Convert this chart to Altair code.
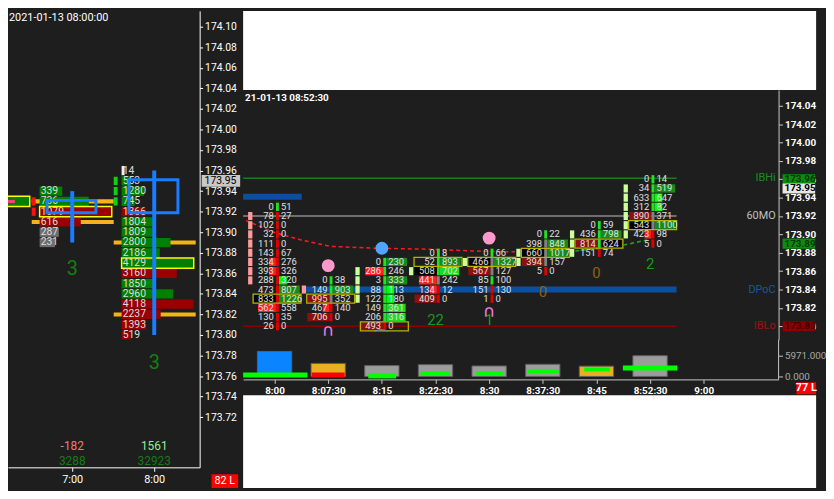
import altair as alt
import pandas as pd

FONT = "Roboto"
DARK = "#1e1e1e"
BLUE = "#1a7cff"
TIME_EXPR = ("floor(datum.value/60) + ':' + (floor(datum.value%60) < 10 ? '0' : '') + "
             "floor(datum.value%60) + (datum.value%1 > 0 ? ':30' : '')")

# ======================= LEFT PANEL : hourly footprint =======================
L_TITLE = "2021-01-13 08:00:00"
L_X_DOMAIN = [373.0, 513.25]          # minutes since midnight
L_Y_DOMAIN = [173.6712, 174.1154]     # price
L_YTICKS = [173.72, 173.74, 173.76, 173.78, 173.80, 173.82, 173.84, 173.86, 173.88, 173.90,
            173.92, 173.94, 173.96, 173.98, 174.00, 174.02, 174.04, 174.06, 174.08, 174.10]
L_XTICKS = [420, 480]
L_BAR_TIME = [420, 480]
L_TOP = [173.94, 173.96]
L_VOL = [[339, 736, 1079, 616, 287, 231],
         [14, 553, 1280, 745, 1366, 1804, 1809, 2800, 2186, 4129, 3160, 1850, 2960, 4118, 2237, 1393, 519]]
L_KIND = ["ggrrnn", "wgggrgggggrggrrrr"]
L_POC = [2, 9]
L_BODY_ROWS = [[173.93, 173.92], [173.95, 173.94, 173.93]]
L_BODY_COLOR = ["#ff1010", "#10d010"]
L_VA_ROWS = [[173.93, 173.91], [173.89, 173.82]]
L_WICK_LO = [173.89, 173.80]
L_WICK_HI = [173.94, 173.96]
L_OPEN = [173.93, 173.92]
L_CLOSE = [173.92, 173.95]
L_COUNT = ["3", "3"]
L_COUNT_PRICE = [173.864, 173.773]
L_DELTA = ["-182", "1561"]
L_DELTA_COLOR = ["#f07878", "#8ef08e"]
L_TOTAL = ["3288", "32923"]
L_LAST = "173.95"
L_LAST_PRICE = 173.95
L_PREV_TIME = 360
L_PREV_POC = 173.93
L_PREV_LINE = [367.2, 378.0]
L_ORDERS = "82 L"

# ======================= RIGHT PANEL : 7.5-minute footprint =======================
R_TITLE = "21-01-13 08:52:30"
R_X_DOMAIN = [475.604, 550.467]
R_Y_DOMAIN = [173.7852, 174.0572]
R_V_DOMAIN = [-5402, 10520]
R_YTICKS = [173.80, 173.82, 173.84, 173.86, 173.88, 173.90, 173.92, 173.94, 173.96, 173.98,
            174.00, 174.02, 174.04]
R_XTICKS = [480, 487.5, 495, 502.5, 510, 517.5, 525, 532.5, 540]
R_VTICKS = [0, 5971]
R_BAR_TIME = [480, 487.5, 495, 502.5, 510, 517.5, 525, 532.5]
R_TOP = [173.93, 173.85, 173.87, 173.88, 173.88, 173.90, 173.91, 173.96]
R_BID = [[0, 78, 102, 32, 111, 143, 334, 393, 288, 473, 833, 562, 130, 26],
         [0, 149, 995, 467, 706],
         [0, 286, 3, 88, 122, 149, 206, 493],
         [0, 52, 508, 441, 134, 409],
         [0, 466, 567, 85, 151, 1],
         [0, 398, 660, 394, 5],
         [0, 436, 814, 151],
         [0, 34, 633, 312, 890, 543, 423, 5]]
R_ASK = [[51, 27, 0, 0, 0, 67, 276, 326, 320, 807, 1226, 558, 35, 0],
         [38, 903, 352, 140, 0],
         [230, 246, 333, 113, 180, 361, 316, 0],
         [8, 893, 702, 242, 12, 0],
         [66, 1327, 127, 100, 130, 0],
         [22, 848, 1017, 157, 0],
         [59, 798, 624, 74],
         [14, 519, 647, 82, 371, 1100, 98, 0]]
R_BID_STYLE = ["......RR..kB..", "..rRr", ".B.....r", "..kBRr", ".kr...", "..kr.", "..r.", "....rkR."]
R_ASK_STYLE = ["........Ggg...", ".g...", "g.gGGLL.", ".gL...", ".g....", ".gg..", ".gk.", ".gGG.g.."]
R_DIV_STYLE = ["grrrrrrrrrrrrr", "ggwrr", "gggggggr", "gggwrr", "gwwgrr", "gwwwr", "gggr", "ggggwwrr"]
R_POC = [10, 2, 7, 1, 1, 2, 2, 5]

R_SIDE_TIME = [472.5, 480, 487.5, 495, 502.5, 510, 517.5, 525]
R_SIDE_LO = [173.85, 173.84, 173.83, 173.86, 173.87, 173.87, 173.88, 173.90]
R_SIDE_HI = [173.92, 173.84, 173.86, 173.86, 173.87, 173.88, 173.90, 173.95]
R_SIDE_COLOR = ["#ff9a9a", "#ff9a9a", "#ccff99", "#ccff99", "#ccff99", "#ccff99", "#ccff99", "#ccff99"]

R_LEVEL_NAME = ["IBHi", "60MO", "DPoC", "IBLo"]
R_LEVEL_PRICE = [173.961, 173.92, 173.84, 173.80]
R_LEVEL_START = [475.604, 475.604, 484.4, 475.604]
R_LEVEL_END = [536.2, 536.2, 536.2, 536.2]
R_LEVEL_COLOR = ["#1f7a1f", "#8a8a8a", "#0a4fa0", "#8b0000"]
R_LEVEL_WIDTH = [1.5, 1.5, 6, 1.5]
R_LEVEL_TEXT_COLOR = ["#1f8a1f", "#c0c0c0", "#1a55a8", "#a01010"]
R_OLD_POC_PRICE = 173.941
R_OLD_POC_X = [475.604, 483.8]

R_TAG_TEXT = ["173.96", "173.95", "173.89", "173.80"]
R_TAG_PRICE = [173.96, 173.95, 173.89, 173.80]
R_TAG_FILL = ["#0f8a0f", "#e6e6e6", "#0f8a0f", "#8b0000"]
R_TAG_INK = ["#063806", "#000000", "#063806", "#420000"]

R_DOT_TIME = [487.5, 495, 510]
R_DOT_PRICE = [173.866, 173.885, 173.896]
R_DOT_COLOR = ["#ff99cc", "#4da6ff", "#ff99cc"]
R_HS_TIME = [487.5, 510, 495]
R_HS_PRICE = [173.795, 173.815, 173.787]
R_HS_TEXT = ["∩", "∩", "⌒"]
R_HS_COLOR = ["#ee82ee", "#ee82ee", "#3399ff"]
R_CNT_TIME = [502.5, 510, 517.5, 525, 532.5]
R_CNT_PRICE = [173.807, 173.807, 173.837, 173.858, 173.868]
R_CNT_TEXT = ["22", "1", "0", "0", "2"]
R_CNT_COLOR = ["#1a9a1a", "#1a9a1a", "#8a6414", "#8a6414", "#1a9a1a"]

R_VWAP_R_X = [476.0, 480.0, 483.7, 487.8, 494.0, 500.8, 507.6, 513.6]
R_VWAP_R_Y = [173.915, 173.902, 173.894, 173.887, 173.885, 173.884, 173.882, 173.881]
R_VWAP_G_X = [521.1, 525.6, 528.0, 532.1]
R_VWAP_G_Y = [173.881, 173.885, 173.887, 173.894]

R_VOL = [7200, 3750, 3130, 3400, 3020, 3500, 2960, 5971]
R_VOL_COLOR = ["#0a84ff", "#e8b020", "#9c9c9c", "#9c9c9c", "#9c9c9c", "#9c9c9c", "#e8b020", "#9c9c9c"]
R_DV_X0 = [475.604, 485.2, 493.1, 500.4, 508.2, 515.4, 523.3, 528.7]
R_DV_X1 = [484.6, 489.8, 497.0, 504.5, 512.0, 519.7, 526.9, 536.3]
R_DV_LO = [-284, -284, -569, 284, 284, 853, 1422, 1706]
R_DV_HI = [1137, 1137, 853, 1422, 1422, 2104, 2559, 3127]
R_DV_COLOR = ["#00ff00", "#ff0000", "#00ff00", "#00ff00", "#00ff00", "#00ff00", "#00ff00", "#00ff00"]
R_ORDERS = "77 L"

# ----------------------------------------------------------------------------
L_W, L_H = 194, 462
R_W, R_H = 542, 253
V_H, V_PANE = 56, 40
COL_W = 580
GAP = 44


def sc(dom):
    return alt.Scale(domain=dom, nice=False, zero=False)


# ---------------- left panel layers ----------------
L_XAXIS = alt.Axis(values=L_XTICKS, labelExpr=TIME_EXPR, orient="bottom", grid=False, title=None,
                   domainColor="#ffffff", tickColor="#ffffff", tickSize=4, labelColor="#ffffff",
                   labelFont=FONT, labelFontSize=11, labelPadding=2)
L_YAXIS = alt.Axis(values=L_YTICKS, format=".2f", orient="right", grid=False, title=None,
                   domainColor="#ffffff", tickColor="#ffffff", tickSize=3, labelColor="#ffffff",
                   labelFont=FONT, labelFontSize=10.5, labelPadding=2)


def lx():
    return alt.X("x:Q", scale=sc(L_X_DOMAIN), axis=L_XAXIS)


def ly():
    return alt.Y("y:Q", scale=sc(L_Y_DOMAIN), axis=L_YAXIS)


LCOL = {"g": "#008000", "r": "#9a0000", "n": "#6e6e6e", "w": "#f0f0f0"}
CELL_OFF, CELL_MAX = -23.86, 52.77

cells, ctext, poc = [], [], []
for t, top, vols, kinds, pi in zip(L_BAR_TIME, L_TOP, L_VOL, L_KIND, L_POC):
    vmax = max(vols)
    x0 = t + CELL_OFF
    for i, (v, k) in enumerate(zip(vols, kinds)):
        p = round(top - 0.01 * i, 2)
        w = 2.2 if k == "w" else v / vmax * CELL_MAX
        cells.append(dict(x=x0, x2=x0 + w, y=p - 0.0045, y2=p + 0.0045, c=LCOL[k]))
        ctext.append(dict(x=x0 + 0.8, y=p, t=str(v)))
        if i == pi:
            poc.append(dict(x=x0, x2=x0 + CELL_MAX, y=p - 0.005, y2=p + 0.005))
poc_prev = [dict(x=L_PREV_TIME + CELL_OFF, x2=L_PREV_TIME + CELL_OFF + CELL_MAX,
                 y=L_PREV_POC - 0.005, y2=L_PREV_POC + 0.005)]
prev_line = [dict(x=L_PREV_LINE[0], x2=L_PREV_LINE[1], y=L_PREV_POC)]

body, va, wick, bbox = [], [], [], []
for t, rows, colr in zip(L_BAR_TIME, L_BODY_ROWS, L_BODY_COLOR):
    for p in rows:
        body.append(dict(x=t - 29.64, x2=t - 26.75, y=p - 0.004, y2=p + 0.004, c=colr))
for t, rows in zip(L_BAR_TIME, L_VA_ROWS):
    for p in rows:
        va.append(dict(x=t - 29.64, x2=t + 30.36, y=p - 0.002, y2=p + 0.002))
for t, lo, hi, o, c in zip(L_BAR_TIME, L_WICK_LO, L_WICK_HI, L_OPEN, L_CLOSE):
    wick.append(dict(x=t, y=lo, y2=hi))
    bbox.append(dict(x=t - 18.5, x2=t + 17.35, y=min(o, c) - 0.001, y2=max(o, c) + 0.001))
counts = [dict(x=t, y=p, t=s) for t, p, s in zip(L_BAR_TIME, L_COUNT_PRICE, L_COUNT)]
deltas = [dict(x=t, t=s, c=c) for t, s, c in zip(L_BAR_TIME, L_DELTA, L_DELTA_COLOR)]
totals = [dict(x=t, t=s) for t, s in zip(L_BAR_TIME, L_TOTAL)]

D = pd.DataFrame


def rect_enc():
    return dict(x=lx(), x2=alt.X2("x2"), y=ly(), y2=alt.Y2("y2"))


def col():
    return alt.Color("c:N", scale=None)


left = alt.layer(
    alt.Chart(D(va)).mark_rect(color="#f2b418").encode(**rect_enc()),
    alt.Chart(D(body)).mark_rect().encode(**rect_enc(), color=col()),
    alt.Chart(D(poc_prev)).mark_rect(color="#008000", stroke="#ffff00", strokeWidth=1.5, clip=True).encode(**rect_enc()),
    alt.Chart(D(prev_line)).mark_rule(color="#ff3c7a", strokeWidth=3, clip=True).encode(x=lx(), x2=alt.X2("x2"), y=ly()),
    alt.Chart(D(cells)).mark_rect().encode(**rect_enc(), color=col()),
    alt.Chart(D(poc)).mark_rect(fillOpacity=0, stroke="#ffff00", strokeWidth=1.5).encode(**rect_enc()),
    alt.Chart(D(ctext)).mark_text(align="left", baseline="middle", font=FONT, fontSize=10.5, color="#dcdcdc").encode(
        x=lx(), y=ly(), text="t:N"),
    alt.Chart(D(wick)).mark_rule(color=BLUE, strokeWidth=4).encode(x=lx(), y=ly(), y2=alt.Y2("y2")),
    alt.Chart(D(bbox)).mark_rect(fillOpacity=0, stroke=BLUE, strokeWidth=3).encode(**rect_enc()),
    alt.Chart(D(counts)).mark_text(font=FONT, fontSize=20, color="#138013", baseline="middle").encode(
        x=lx(), y=ly(), text="t:N"),
    alt.Chart(D(deltas)).mark_text(font=FONT, fontSize=12, baseline="middle").encode(
        x=lx(), y=alt.value(440), text="t:N", color=col()),
    alt.Chart(D(totals)).mark_text(font=FONT, fontSize=12, baseline="middle", color="#177a17").encode(
        x=lx(), y=alt.value(456), text="t:N"),
    alt.Chart(D([dict(y=L_LAST_PRICE - 0.0058, y2=L_LAST_PRICE + 0.0058)])).mark_rect(color="#c8c8c8").encode(
        x=alt.value(196), x2=alt.value(235), y=ly(), y2=alt.Y2("y2")),
    alt.Chart(D([dict(y=L_LAST_PRICE, t=L_LAST)])).mark_text(align="left", baseline="middle", font=FONT,
                                                            fontSize=10.5, color="#000000").encode(
        x=alt.value(199), y=ly(), text="t:N"),
    alt.Chart(D([dict(t=L_TITLE)])).mark_text(align="left", baseline="top", font=FONT, fontSize=11,
                                              color="#ffffff").encode(x=alt.value(1), y=alt.value(1), text="t:N"),
    alt.Chart(D([dict(t=L_ORDERS)])).mark_rect(color="#ff0000").encode(
        x=alt.value(206), x2=alt.value(233), y=alt.value(469), y2=alt.value(483)),
    alt.Chart(D([dict(t=L_ORDERS)])).mark_text(font=FONT, fontSize=11, color="#ffffff", baseline="middle").encode(
        x=alt.value(219.5), y=alt.value(476), text="t:N"),
).properties(width=L_W, height=L_H)

# ---------------- right panel: price pane ----------------
R_YAXIS = alt.Axis(values=R_YTICKS, format=".2f", orient="right", grid=False, title=None,
                   domainColor="#c8c8c8", tickColor="#c8c8c8", tickSize=4, labelColor="#ffffff",
                   labelFont=FONT, labelFontSize=10, labelFontWeight="bold", labelPadding=2)


def rx():
    return alt.X("x:Q", scale=sc(R_X_DOMAIN), axis=None)


def ry():
    return alt.Y("y:Q", scale=sc(R_Y_DOMAIN), axis=R_YAXIS)


BID_COL = {"r": "#8b1010", "R": "#ff2020", "B": "#ff2020", "k": "#000000"}
BID_W = {"r": 3.1, "R": 0.95, "B": 2.5, "k": 3.1}
ASK_COL = {"g": "#178a17", "G": "#00ff00", "L": "#22d822", "k": "#000000"}
ASK_W = {"g": 2.9, "G": 1.1, "L": 2.7, "k": 2.9}
DIV_COL = {"g": "#22e022", "r": "#e00000", "w": "#808080"}

fp_bg, fp_div, fp_bid, fp_ask, fp_poc = [], [], [], [], []
for t, top, bids, asks, bs, as_, ds, pi in zip(R_BAR_TIME, R_TOP, R_BID, R_ASK, R_BID_STYLE,
                                               R_ASK_STYLE, R_DIV_STYLE, R_POC):
    d = t + 0.4
    for i, (b, a) in enumerate(zip(bids, asks)):
        p = round(top - 0.01 * i, 2)
        if bs[i] != ".":
            fp_bg.append(dict(x=d - 0.22 - BID_W[bs[i]], x2=d - 0.22, y=p - 0.0045, y2=p + 0.0045, c=BID_COL[bs[i]]))
        if as_[i] != ".":
            fp_bg.append(dict(x=d + 0.22, x2=d + 0.22 + ASK_W[as_[i]], y=p - 0.0045, y2=p + 0.0045, c=ASK_COL[as_[i]]))
        fp_div.append(dict(x=d - 0.2, x2=d + 0.2, y=p - 0.0045, y2=p + 0.0045, c=DIV_COL[ds[i]]))
        fp_bid.append(dict(x=d - 0.5, y=p, t=str(b)))
        fp_ask.append(dict(x=d + 0.5, y=p, t=str(a)))
        if i == pi:
            fp_poc.append(dict(x=d - 3.4, x2=d + 3.3, y=p - 0.0049, y2=p + 0.0049))

side = []
for t, lo, hi, c in zip(R_SIDE_TIME, R_SIDE_LO, R_SIDE_HI, R_SIDE_COLOR):
    n = int(round((hi - lo) / 0.01)) + 1
    for i in range(n):
        p = lo + 0.01 * i
        side.append(dict(x=t + 3.8, x2=t + 4.4, y=p - 0.0044, y2=p + 0.0044, c=c))

levels_thin = [dict(x=s, x2=e, y=p, c=c) for s, e, p, c, w in
               zip(R_LEVEL_START, R_LEVEL_END, R_LEVEL_PRICE, R_LEVEL_COLOR, R_LEVEL_WIDTH) if w < 3]
levels_thick = [dict(x=s, x2=e, y=p, c=c) for s, e, p, c, w in
                zip(R_LEVEL_START, R_LEVEL_END, R_LEVEL_PRICE, R_LEVEL_COLOR, R_LEVEL_WIDTH) if w >= 3]
levels_thick.append(dict(x=R_OLD_POC_X[0], x2=R_OLD_POC_X[1], y=R_OLD_POC_PRICE, c="#0a4fa0"))
level_txt = [dict(y=p, t=n, c=c) for n, p, c in zip(R_LEVEL_NAME, R_LEVEL_PRICE, R_LEVEL_TEXT_COLOR)]
tags = [dict(y=p - 0.0055, y2=p + 0.0055, c=f) for p, f in zip(R_TAG_PRICE, R_TAG_FILL)]
tag_txt = [dict(y=p, t=s, c=c) for p, s, c in zip(R_TAG_PRICE, R_TAG_TEXT, R_TAG_INK)]
dots = [dict(x=t, y=p, c=c) for t, p, c in zip(R_DOT_TIME, R_DOT_PRICE, R_DOT_COLOR)]
hs = [dict(x=t, y=p, t=s, c=c) for t, p, s, c in zip(R_HS_TIME, R_HS_PRICE, R_HS_TEXT, R_HS_COLOR)]
cnt = [dict(x=t, y=p, t=s, c=c) for t, p, s, c in zip(R_CNT_TIME, R_CNT_PRICE, R_CNT_TEXT, R_CNT_COLOR)]
vw_r = [dict(x=x, y=y) for x, y in zip(R_VWAP_R_X, R_VWAP_R_Y)]
vw_g = [dict(x=x, y=y) for x, y in zip(R_VWAP_G_X, R_VWAP_G_Y)]


def r_rect():
    return dict(x=rx(), x2=alt.X2("x2"), y=ry(), y2=alt.Y2("y2"))


price = alt.layer(
    alt.Chart(D(levels_thin)).mark_rule(strokeWidth=1.5).encode(x=rx(), x2=alt.X2("x2"), y=ry(), color=col()),
    alt.Chart(D(levels_thick)).mark_rule(strokeWidth=6).encode(x=rx(), x2=alt.X2("x2"), y=ry(), color=col()),
    alt.Chart(D(vw_r)).mark_line(color="#ff1a1a", strokeWidth=1.5, strokeDash=[4, 3]).encode(x=rx(), y=ry()),
    alt.Chart(D(vw_g)).mark_line(color="#22aa22", strokeWidth=1.5, strokeDash=[4, 3]).encode(x=rx(), y=ry()),
    alt.Chart(D(side)).mark_rect().encode(**r_rect(), color=col()),
    alt.Chart(D(fp_bg)).mark_rect().encode(**r_rect(), color=col()),
    alt.Chart(D(fp_div)).mark_rect().encode(**r_rect(), color=col()),
    alt.Chart(D(fp_poc)).mark_rect(fillOpacity=0, stroke="#b4b400", strokeWidth=1.3).encode(**r_rect()),
    alt.Chart(D(fp_bid)).mark_text(align="right", baseline="middle", font=FONT, fontSize=9.5,
                                   color="#e0e0e0").encode(x=rx(), y=ry(), text="t:N"),
    alt.Chart(D(fp_ask)).mark_text(align="left", baseline="middle", font=FONT, fontSize=9.5,
                                   color="#e0e0e0").encode(x=rx(), y=ry(), text="t:N"),
    alt.Chart(D(dots)).mark_circle(size=170, opacity=1).encode(x=rx(), y=ry(), color=col()),
    alt.Chart(D(hs)).mark_text(font="DejaVu Sans", fontSize=17, baseline="middle").encode(
        x=rx(), y=ry(), text="t:N", color=col()),
    alt.Chart(D(cnt)).mark_text(font=FONT, fontSize=15, baseline="middle").encode(
        x=rx(), y=ry(), text="t:N", color=col()),
    alt.Chart(D(level_txt)).mark_text(align="right", baseline="middle", font=FONT, fontSize=11).encode(
        x=alt.value(R_W - 3), y=ry(), text="t:N", color=col()),
    alt.Chart(D(tags)).mark_rect().encode(x=alt.value(R_W + 4), x2=alt.value(COL_W - 1), y=ry(),
                                          y2=alt.Y2("y2"), color=col()),
    alt.Chart(D(tag_txt)).mark_text(align="left", baseline="middle", font=FONT, fontSize=10,
                                    fontWeight="bold").encode(x=alt.value(R_W + 6), y=ry(), text="t:N", color=col()),
    alt.Chart(D([dict(t=R_TITLE)])).mark_text(align="left", baseline="top", font=FONT, fontSize=10,
                                              fontWeight="bold", color="#ffffff").encode(
        x=alt.value(2), y=alt.value(3), text="t:N"),
).properties(width=R_W, height=R_H)

# ---------------- right panel: volume pane (time axis drawn inside the view) ----------------
R_XAXIS = alt.Axis(values=R_XTICKS, labelExpr=TIME_EXPR, orient="bottom", grid=False, title=None,
                   offset=V_PANE - V_H,
                   domainColor="#c8c8c8", tickColor="#c8c8c8", tickSize=4, labelColor="#ffffff",
                   labelFont=FONT, labelFontSize=10, labelFontWeight="bold", labelPadding=2)
R_VAXIS = alt.Axis(values=R_VTICKS, format=".3f", orient="right", grid=False, title=None, domain=False,
                   tickColor="#c8c8c8", tickSize=4, labelColor="#a8a8a8",
                   labelFont=FONT, labelFontSize=10, labelPadding=2)


def vx():
    return alt.X("x:Q", scale=sc(R_X_DOMAIN), axis=R_XAXIS)


def vy():
    return alt.Y("y:Q", scale=sc(R_V_DOMAIN), axis=R_VAXIS)


vbars = [dict(x=t - 2.4, x2=t + 2.4, y=0, y2=v, c=c) for t, v, c in zip(R_BAR_TIME, R_VOL, R_VOL_COLOR)]
dbars = [dict(x=a, x2=b, y=lo, y2=hi, c=c) for a, b, lo, hi, c in
         zip(R_DV_X0, R_DV_X1, R_DV_LO, R_DV_HI, R_DV_COLOR)]


def v_rect():
    return dict(x=vx(), x2=alt.X2("x2"), y=vy(), y2=alt.Y2("y2"))


volume = alt.layer(
    alt.Chart(D(vbars)).mark_rect(stroke="#606060", strokeWidth=1).encode(**v_rect(), color=col()),
    alt.Chart(D(dbars)).mark_rect().encode(**v_rect(), color=col()),
    alt.Chart(D([dict(a=0)])).mark_rule(color="#c8c8c8").encode(
        x=alt.value(R_W), y=alt.value(0), y2=alt.value(V_PANE)),
    alt.Chart(D([dict(t=R_ORDERS)])).mark_rect(color="#ff0000").encode(
        x=alt.value(R_W + 18), x2=alt.value(COL_W), y=alt.value(V_PANE + 3), y2=alt.value(V_PANE + 15)),
    alt.Chart(D([dict(t=R_ORDERS)])).mark_text(font=FONT, fontSize=11, color="#ffffff", baseline="middle",
                                               fontWeight="bold").encode(
        x=alt.value(R_W + 28), y=alt.value(V_PANE + 9), text="t:N"),
).properties(width=R_W, height=V_H)


def spacer(h):
    # invisible, zero-extent mark so that nothing spills outside the white view
    return alt.Chart(D([dict(a=0)])).mark_rect(opacity=0).encode(
        x=alt.value(1), x2=alt.value(2), y=alt.value(1), y2=alt.value(2)).properties(
        width=COL_W, height=h, view=alt.ViewBackground(fill="#ffffff", strokeWidth=0))


right_col = alt.vconcat(spacer(80), price, volume, spacer(94), spacing=0, bounds="flush")

chart = alt.hconcat(left, right_col, spacing=GAP, bounds="flush").properties(
    background=DARK, padding=0).configure_view(strokeWidth=0)

chart.save("out.html", embed_options={"renderer": "svg", "actions": False})
